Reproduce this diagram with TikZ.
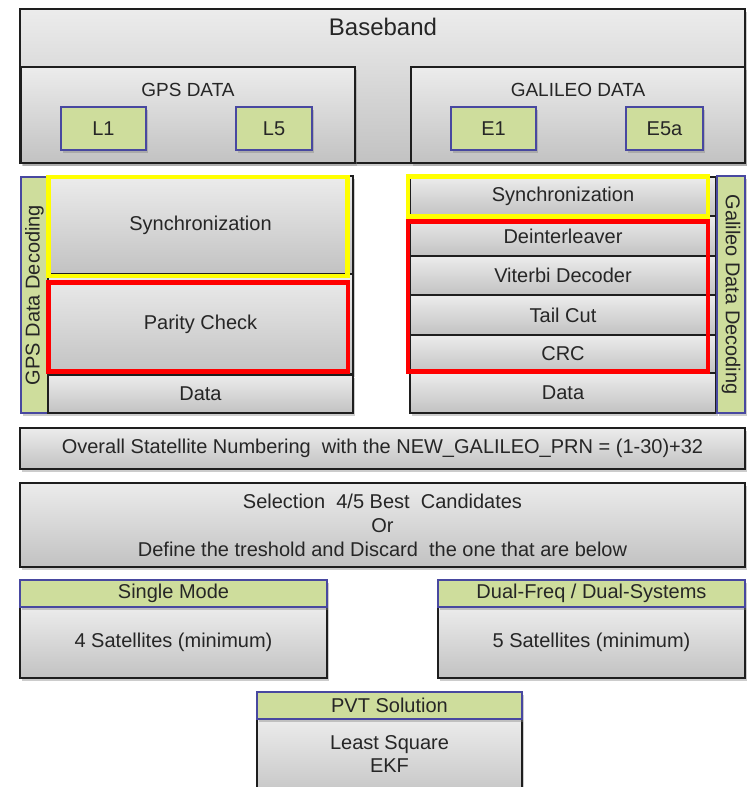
\documentclass[tikz,border=0pt]{standalone}
\usepackage{fontspec}
\setmainfont{Liberation Sans}
\usetikzlibrary{shadows}
\definecolor{boxgreen}{RGB}{206,221,156}
\definecolor{boxnavy}{RGB}{72,72,160}
\definecolor{boxline}{RGB}{30,30,30}
\definecolor{topgray}{RGB}{236,236,236}
\definecolor{botgray}{RGB}{194,194,194}
\definecolor{ylw}{RGB}{255,255,0}
\definecolor{rd}{RGB}{255,0,0}
\newcommand{\fs}[1]{\fontsize{#1}{#1}\selectfont}
\begin{document}
\begin{tikzpicture}[x=1pt,y=-1pt,
  graybox/.style={draw=boxline, line width=1.4pt, top color=topgray, bottom color=botgray,
     inner sep=0pt, outer sep=0pt, font=\fs{20}, text=black!85,
     drop shadow={shadow xshift=1.5pt, shadow yshift=-2.5pt, opacity=0.4}},
  greenbox/.style={draw=boxnavy, line width=1.5pt, fill=boxgreen, inner sep=0pt, outer sep=0pt,
     font=\fs{20}, text=black!85,
     drop shadow={shadow xshift=1.5pt, shadow yshift=-2.5pt, opacity=0.4}},
  txt/.style={inner sep=0pt, font=\fs{20}, text=black!85},
  ylwframe/.style={draw=ylw, line width=4.5pt},
  redframe/.style={draw=rd, line width=4.5pt}
]
\useasboundingbox (0,0) rectangle (748,787);
\clip (0,0) rectangle (748,787);
\fill[white] (0,0) rectangle (748,787);

% Baseband
\node[graybox, minimum width=725pt, minimum height=154pt] (baseband) at (382.5,86) {};
\node[txt, font=\fs{24}] (basebandtxt) at (383,27) {Baseband};

% GPS data
\node[graybox, minimum width=334pt, minimum height=96pt] (gpsdata) at (188,115) {};
\node[txt, font=\fs{19}] (gpsdatatxt) at (188,90) {GPS DATA};
\node[greenbox, minimum width=85pt, minimum height=43pt] (l1) at (103.5,128.5) {L1};
\node[greenbox, minimum width=76pt, minimum height=43pt] (l5) at (274,128.5) {L5};

% Galileo data
\node[graybox, minimum width=334pt, minimum height=96pt] (galdata) at (578,115) {};
\node[txt, font=\fs{19}] (galdatatxt) at (578,90) {GALILEO DATA};
\node[greenbox, minimum width=85pt, minimum height=43pt] (e1) at (493.5,128.5) {E1};
\node[greenbox, minimum width=77pt, minimum height=43pt] (e5a) at (664.5,128.5) {E5a};

% GPS decoding
\node[greenbox, minimum width=27pt, minimum height=236pt] (gpsdec) at (34.5,295) {};
\node[txt, rotate=90] (gpsdectxt) at (34.5,295) {GPS Data Decoding};
\node[graybox, minimum width=305pt, minimum height=98pt] (gpssync) at (200.5,225) {Synchronization};
\node[graybox, minimum width=305pt, minimum height=100pt] (parity) at (200.5,324) {Parity Check};
\node[graybox, minimum width=305pt, minimum height=38pt] (gpsout) at (200.5,394) {Data};

% Galileo decoding
\node[graybox, minimum width=306pt, minimum height=39pt] (galsync) at (563,196.5) {Synchronization};
\node[graybox, minimum width=306pt, minimum height=40pt] (deint) at (563,236) {Deinterleaver};
\node[graybox, minimum width=306pt, minimum height=39pt] (viterbi) at (563,275.5) {Viterbi Decoder};
\node[graybox, minimum width=306pt, minimum height=40pt] (tail) at (563,315) {Tail Cut};
\node[graybox, minimum width=306pt, minimum height=38pt] (crc) at (563,354) {CRC};
\node[graybox, minimum width=306pt, minimum height=40pt] (galout) at (563,393) {Data};
\node[greenbox, minimum width=28pt, minimum height=237pt] (galdec) at (731,294.5) {};
\node[txt, rotate=-90] (galdectxt) at (731,294.5) {Galileo Data Decoding};

% Highlight frames
\draw[ylwframe] (48.4,177) rectangle (347.5,276);
\draw[redframe] (48.4,282.5) rectangle (348,371.5);
\draw[ylwframe] (408,176.5) rectangle (708,216.5);
\draw[redframe] (408,221.5) rectangle (708,371.5);

% Overall numbering
\node[graybox, minimum width=725pt, minimum height=41pt] (overall) at (382.5,448.5)
  {Overall Statellite Numbering\ \ with the NEW\_GALILEO\_PRN = (1-30)+32};

% Selection
\node[graybox, minimum width=725pt, minimum height=84pt, align=center] (selection) at (382.5,525)
  {Selection\ \ 4/5 Best\ \ Candidates\\[4pt] Or\\[4pt] Define the treshold and Discard\ \ the one that are below};

% Single mode
\node[graybox, minimum width=307pt, minimum height=71pt] (single) at (173.5,642.5) {4 Satellites (minimum)};
\node[greenbox, minimum width=307pt, minimum height=27pt] (singlehead) at (173.5,593.5) {Single Mode};

% Dual
\node[graybox, minimum width=307pt, minimum height=71pt] (dual) at (591.5,642.5) {5 Satellites (minimum)};
\node[greenbox, minimum width=307pt, minimum height=27pt] (dualhead) at (591.5,593.5) {Dual-Freq / Dual-Systems};

% PVT
\node[graybox, minimum width=265pt, minimum height=84pt] (pvt) at (389.5,761) {};
\node[txt, align=center] (pvttxt) at (389.5,754) {Least Square\\[3pt] EKF};
\node[greenbox, minimum width=265pt, minimum height=27pt] (pvthead) at (389.5,705.5) {PVT Solution};
\end{tikzpicture}
\end{document}
